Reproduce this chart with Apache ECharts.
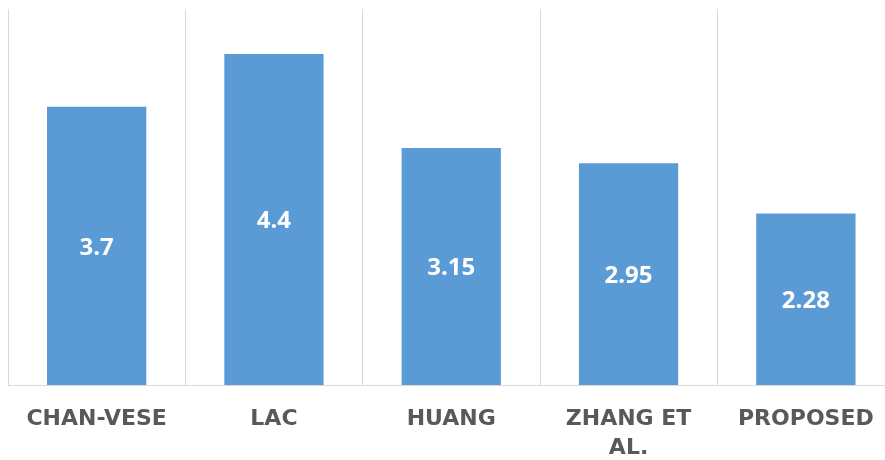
<!DOCTYPE html>
<html>
<head>
<meta charset="utf-8">
<script src="https://cdn.jsdelivr.net/npm/echarts@6/dist/echarts.min.js"></script>
<style>
html,body{margin:0;padding:0;background:#fff;overflow:hidden;}
#c{width:885px;height:460px;}
</style>
</head>
<body>
<div id="c"></div>
<script>
const categories = ['CHAN-VESE', 'LAC', 'HUANG', 'ZHANG ET AL.', 'PROPOSED'];
const values = [3.7, 4.4, 3.15, 2.95, 2.28];

const chart = echarts.init(document.getElementById('c'), null, {renderer: 'canvas'});
chart.setOption({
  animation: false,
  backgroundColor: '#ffffff',
  grid: {left: 8, top: 9, right: -9.5, bottom: 75, containLabel: false, outerBoundsMode: 'none'},
  xAxis: {
    type: 'category',
    data: categories,
    boundaryGap: true,
    axisLine: {show: true, lineStyle: {color: '#d9d9d9', width: 1}},
    axisTick: {show: false},
    splitLine: {show: true, lineStyle: {color: '#d9d9d9', width: 1}},
    axisLabel: {
      color: '#595959',
      fontFamily: 'DejaVu Sans',
      fontWeight: 'bold',
      fontSize: 22,
      lineHeight: 29,
      margin: 20,
      interval: 0,
      formatter: v => v.replace(' AL.', '\nAL.')
    }
  },
  yAxis: {
    type: 'value',
    min: 0,
    max: 5,
    show: false,
    splitLine: {show: false}
  },
  series: [{
    type: 'bar',
    data: values,
    barWidth: '56%',
    itemStyle: {color: '#5b9bd5'},
    label: {
      show: true,
      position: 'inside',
      offset: [0, 2],
      color: '#ffffff',
      fontFamily: 'Open Sans',
      fontWeight: 'bold',
      fontSize: 24
    }
  }]
});
</script>
</body>
</html>
